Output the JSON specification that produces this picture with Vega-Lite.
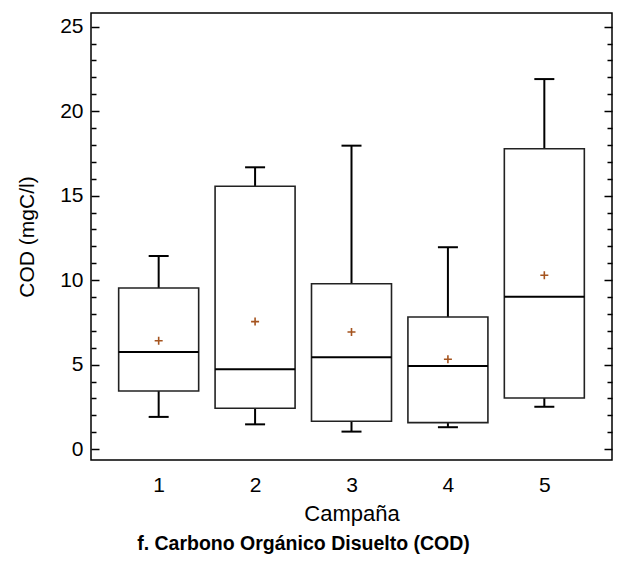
{
  "$schema": "https://vega.github.io/schema/vega-lite/v6.json",
  "autosize": {"type": "none"},
  "padding": {"left": 91, "top": 13, "right": 8, "bottom": 101},
  "width": 521,
  "height": 447,
  "background": "white",
  "config": {
    "view": {"stroke": "black", "strokeWidth": 1.5},
    "font": "Liberation Sans"
  },
  "title": {
    "text": "f. Carbono Orgánico Disuelto (COD)",
    "orient": "bottom",
    "anchor": "middle",
    "dx": -48,
    "offset": 11,
    "font": "Liberation Sans",
    "fontSize": 19.5,
    "fontWeight": "bold",
    "color": "black"
  },
  "data": {
    "values": [
      {"campana": 1, "min": 1.91, "q1": 3.44, "median": 5.75, "q3": 9.54, "max": 11.43, "mean": 6.42},
      {"campana": 2, "min": 1.47, "q1": 2.42, "median": 4.73, "q3": 15.56, "max": 16.68, "mean": 7.55},
      {"campana": 3, "min": 1.04, "q1": 1.65, "median": 5.44, "q3": 9.79, "max": 17.96, "mean": 6.93},
      {"campana": 4, "min": 1.30, "q1": 1.57, "median": 4.92, "q3": 7.82, "max": 11.95, "mean": 5.32},
      {"campana": 5, "min": 2.51, "q1": 3.03, "median": 9.02, "q3": 17.78, "max": 21.9, "mean": 10.29}
    ]
  },
  "encoding": {
    "x": {
      "field": "campana",
      "type": "quantitative",
      "scale": {"domain": [0.35, 5.65], "nice": false, "zero": false},
      "axis": {
        "values": [1, 2, 3, 4, 5],
        "title": "Campaña",
        "ticks": false,
        "tickSize": 0,
        "domain": false,
        "grid": false,
        "labelFontSize": 21,
        "labelColor": "black",
        "labelPadding": 14,
        "titleFontSize": 22,
        "titleFontWeight": "normal",
        "titleColor": "black",
        "titlePadding": 8
      }
    }
  },
  "layer": [
    {
      "mark": {"type": "rule", "color": "black", "strokeWidth": 2},
      "encoding": {
        "y": {
          "field": "min",
          "type": "quantitative",
          "scale": {"domain": [-0.64, 25.81], "nice": false, "zero": false},
          "axis": {
            "orient": "left",
            "values": [0,1,2,3,4,5,6,7,8,9,10,11,12,13,14,15,16,17,18,19,20,21,22,23,24,25],
            "labelExpr": "datum.value % 5 === 0 ? datum.label : ''",
            "tickSize": {"condition": {"test": "datum.value % 5 === 0", "value": -8}, "value": -5},
            "tickColor": "black",
            "tickWidth": 1.5,
            "domain": false,
            "grid": false,
            "labelFontSize": 21,
            "labelColor": "black",
            "labelPadding": 16,
            "title": "COD (mgC/l)",
            "titleFontSize": 21,
            "titleFontWeight": "normal",
            "titleColor": "black",
            "titlePadding": 22
          }
        },
        "y2": {"field": "max"}
      }
    },
    {
      "mark": {"type": "bar", "width": 80, "fill": "white", "stroke": "#222222", "strokeWidth": 1.6},
      "encoding": {
        "y": {
          "field": "q1",
          "type": "quantitative",
          "axis": {
            "orient": "right",
            "values": [0,1,2,3,4,5,6,7,8,9,10,11,12,13,14,15,16,17,18,19,20,21,22,23,24,25],
            "labels": false,
            "title": null,
            "tickSize": {"condition": {"test": "datum.value % 5 === 0", "value": -8}, "value": -5},
            "tickColor": "black",
            "tickWidth": 1.5,
            "domain": false,
            "grid": false
          }
        },
        "y2": {"field": "q3"}
      }
    },
    {
      "mark": {"type": "tick", "orient": "horizontal", "size": 80, "thickness": 2, "color": "black", "opacity": 1},
      "encoding": {"y": {"field": "median", "type": "quantitative", "axis": null}}
    },
    {
      "mark": {"type": "tick", "orient": "horizontal", "size": 20, "thickness": 2, "color": "black", "opacity": 1},
      "encoding": {"y": {"field": "max", "type": "quantitative", "axis": null}}
    },
    {
      "mark": {"type": "tick", "orient": "horizontal", "size": 20, "thickness": 2, "color": "black", "opacity": 1},
      "encoding": {"y": {"field": "min", "type": "quantitative", "axis": null}}
    },
    {
      "mark": {"type": "point", "shape": "M-1,0H1M0,-1V1", "size": 64, "filled": false, "stroke": "#a5541f", "strokeWidth": 1.6, "opacity": 1},
      "encoding": {"y": {"field": "mean", "type": "quantitative", "axis": null}}
    }
  ],
  "resolve": {"axis": {"y": "independent"}}
}
